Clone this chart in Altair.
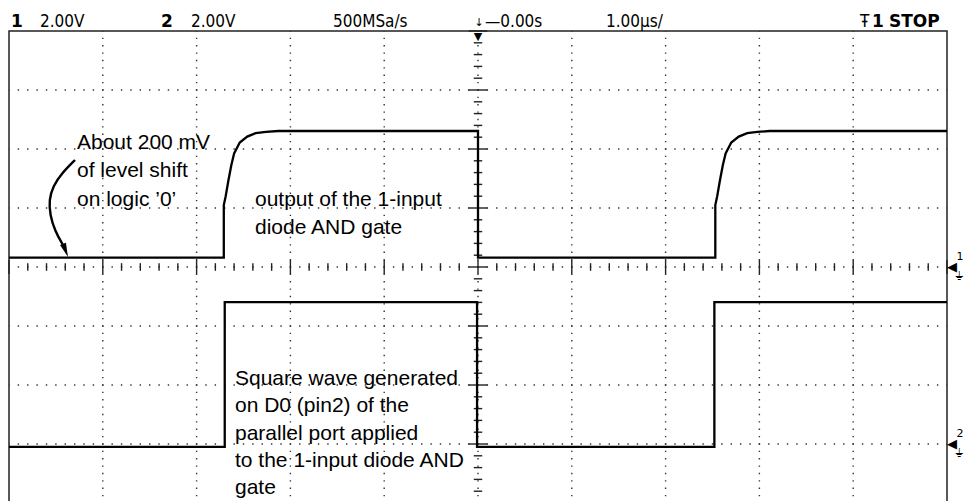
import altair as alt
import pandas as pd
import numpy as np

# ---------------- scope settings (from the header) ----------------
time_per_div = 1.0      # µs / div
volts_per_div = 2.0     # V / div
t_range = [-5.0, 5.0]   # 10 horizontal divisions, trigger at 0
div_range = [-4.0, 4.0] # 8 vertical divisions

# ---------------- Channel 1 : output of the 1-input diode AND gate ----------------
ch1_ground_div = 0.0
ch1_edge_times = [-2.71, 0.00, 2.53]          # rise, fall, rise  (µs)
ch1_low_v = 0.32
ch1_high_v = 4.61
ch1_rise_dt = [0.00, 0.00, 0.02, 0.05, 0.08, 0.11, 0.17, 0.25, 0.34, 0.45, 0.58]
ch1_rise_v = [0.32, 2.10, 2.40, 2.95, 3.45, 3.85, 4.22, 4.42, 4.54, 4.58, 4.61]

# ---------------- Channel 2 : square wave on D0 ----------------
ch2_ground_div = -3.0
ch2_edge_times = [-2.70, -0.01, 2.52]
ch2_low_v = -0.10
ch2_high_v = 4.81

# ---------------- text ----------------
header_thin = ["2.00V", "2.00V", "500MSa/s", "\u2014" + "0.00s", "1.00\u00b5s/", "\u0166"]
header_bold = ["1", "2", "1", "STOP"]
notes = ["About 200 mV", "of level shift", "on logic \u20190\u2019",
         "output of the 1-input", "diode AND gate",
         "Square wave generated", "on D0 (pin2) of the", "parallel port applied",
         "to the 1-input diode AND", "gate"]

# ---------------- pixel helpers for annotations ----------------
X0, Y0 = 9, 31
PXT, PXD = 93.8, 59.0
def tx(px):
    return (px - X0) / PXT - 5.0
def ty(py):
    return 4.0 - (py - Y0) / PXD

def vdiv(v, g):
    return v / volts_per_div + g

# ---------------- build traces ----------------
rows = []
def add(ch, t, v, g):
    rows.append({"ch": ch, "t": t, "y": vdiv(v, g), "o": len(rows)})

g = ch1_ground_div
add("1", t_range[0], ch1_low_v, g)
for dt, v in zip(ch1_rise_dt, ch1_rise_v):
    add("1", ch1_edge_times[0] + dt, v, g)
add("1", ch1_edge_times[1], ch1_high_v, g)
add("1", ch1_edge_times[1], ch1_low_v, g)
for dt, v in zip(ch1_rise_dt, ch1_rise_v):
    add("1", ch1_edge_times[2] + dt, v, g)
add("1", t_range[1], ch1_high_v, g)

g = ch2_ground_div
add("2", t_range[0], ch2_low_v, g)
add("2", ch2_edge_times[0], ch2_low_v, g)
add("2", ch2_edge_times[0], ch2_high_v, g)
add("2", ch2_edge_times[1], ch2_high_v, g)
add("2", ch2_edge_times[1], ch2_low_v, g)
add("2", ch2_edge_times[2], ch2_low_v, g)
add("2", ch2_edge_times[2], ch2_high_v, g)
add("2", t_range[1], ch2_high_v, g)
traces = pd.DataFrame(rows)

# ---------------- graticule ----------------
hgrid = pd.DataFrame({"y": [-3, -2, -1, 0, 1, 2, 3]})
vgrid = pd.DataFrame({"t": [-4, -3, -2, -1, 0, 1, 2, 3, 4]})

hx = np.round(np.arange(-5.0, 5.0001, 0.2), 3)
hmaj = np.isclose(hx, np.round(hx))
htick = pd.DataFrame({"t": hx, "y": np.where(hmaj, -0.12, -0.065), "y2": np.where(hmaj, 0.12, 0.065)})
vy = np.round(np.arange(-4.0, 4.0001, 0.2), 3)
vmaj = np.isclose(vy, np.round(vy))
vtick = pd.DataFrame({"y": vy, "t": np.where(vmaj, -0.1, -0.045), "t2": np.where(vmaj, 0.1, 0.045)})

xs = alt.Scale(domain=t_range, nice=False, zero=False)
ys = alt.Scale(domain=div_range, nice=False, zero=False)
X = alt.X("t:Q", scale=xs, axis=None)
Y = alt.Y("y:Q", scale=ys, axis=None)

DOT = "#333333"
hg = alt.Chart(hgrid).mark_rule(color=DOT, strokeWidth=1.4, strokeDash=[1.4, 7.98], strokeDashOffset=0.7).encode(y=Y)
vg = alt.Chart(vgrid).mark_rule(color=DOT, strokeWidth=1.4, strokeDash=[1.4, 5.975], strokeDashOffset=0.7).encode(x=X)
ht = alt.Chart(htick).mark_rule(color="#222222", strokeWidth=1.4).encode(x=X, y=Y, y2="y2:Q")
vt = alt.Chart(vtick).mark_rule(color="#222222", strokeWidth=1.4).encode(y=Y, x=X, x2="t2:Q")

lines = alt.Chart(traces).mark_line(color="black", strokeWidth=2.3, interpolate="linear").encode(
    x=X, y=Y, detail="ch:N", order="o:Q")

# ---------------- annotations ----------------
arrow_px = [(75, 160), (62, 173), (53, 186), (49, 200), (50, 215), (55, 231), (63, 245)]
arrow = pd.DataFrame({"t": [tx(p[0]) for p in arrow_px], "y": [ty(p[1]) for p in arrow_px],
                      "o": list(range(len(arrow_px)))})
arr_line = alt.Chart(arrow).mark_line(color="black", strokeWidth=2.4, interpolate="basis").encode(
    x=X, y=Y, order="o:Q")
head = pd.DataFrame({"t": [tx(65.5)], "y": [ty(250.5)]})
arr_head = alt.Chart(head).mark_point(shape="M0,1L-0.45,-1L0.45,-1Z", filled=True, size=196,
                                      angle=339, color="black", opacity=1).encode(x=X, y=Y)

note_px = [(77, 149), (77, 177), (77, 206), (255, 206), (255, 234),
           (235, 385), (235, 412), (235, 440), (235, 467), (235, 494)]
note_df = pd.DataFrame({"txt": notes, "t": [tx(p[0]) for p in note_px], "y": [ty(p[1]) for p in note_px]})
note_txt = alt.Chart(note_df).mark_text(align="left", baseline="alphabetic", font="Liberation Sans",
                                        fontSize=21, color="black").encode(x=X, y=Y, text="txt:N")

thin_x = [40, 191, 333, 485, 606, 860]
thin_df = pd.DataFrame({"txt": header_thin, "t": [tx(p) for p in thin_x], "y": [ty(27)] * len(thin_x)})
thin_txt = alt.Chart(thin_df).mark_text(align="left", baseline="alphabetic",
                                        font="'DejaVu Sans Condensed', 'Liberation Sans Narrow', 'DejaVu Sans'",
                                        fontSize=17, fontWeight=200, color="black").encode(x=X, y=Y, text="txt:N")
bold_x = [11, 161, 872, 889]
bold_df = pd.DataFrame({"txt": header_bold, "t": [tx(p) for p in bold_x], "y": [ty(27)] * len(bold_x)})
bold_txt = alt.Chart(bold_df).mark_text(align="left", baseline="alphabetic", font="DejaVu Sans",
                                        fontSize=17, fontWeight="bold", color="black").encode(x=X, y=Y, text="txt:N")

trig_df = pd.DataFrame({"txt": ["\u25bc", "\u2193"], "t": [tx(478), tx(479)], "y": [ty(40), ty(26)],
                        "s": [11, 11]})
trig_txt = alt.Chart(trig_df).mark_text(align="center", baseline="alphabetic", font="DejaVu Sans",
                                        color="black").encode(x=X, y=Y, text="txt:N",
                                                              size=alt.Size("s:Q", scale=None, legend=None))

mark_df = pd.DataFrame({"txt": ["\u25c0", "1", "\u23da", "\u25c0", "2", "\u23da"],
                        "t": [tx(952), tx(960), tx(959), tx(952), tx(960), tx(959)],
                        "y": [vdiv(0, ch1_ground_div), ty(257), ty(276),
                              vdiv(0, ch2_ground_div), ty(434), ty(453)],
                        "s": [13, 11, 12, 13, 11, 12]})
mark_txt = alt.Chart(mark_df).mark_text(align="center", baseline="middle", font="DejaVu Sans",
                                        color="black").encode(x=X, y=Y, text="txt:N",
                                                              size=alt.Size("s:Q", scale=None, legend=None))

chart = alt.layer(hg, vg, ht, vt, lines, arr_line, arr_head, note_txt, thin_txt, bold_txt,
                  trig_txt, mark_txt).properties(
    width=938, height=472,
    autosize=alt.AutoSizeParams(type="none"),
    padding={"left": 1, "top": 23, "right": 17, "bottom": 0},
    background="white",
).configure_view(stroke="#222222", strokeWidth=1.5)

chart.save("out.html", embed_options={"renderer": "svg", "actions": False})
